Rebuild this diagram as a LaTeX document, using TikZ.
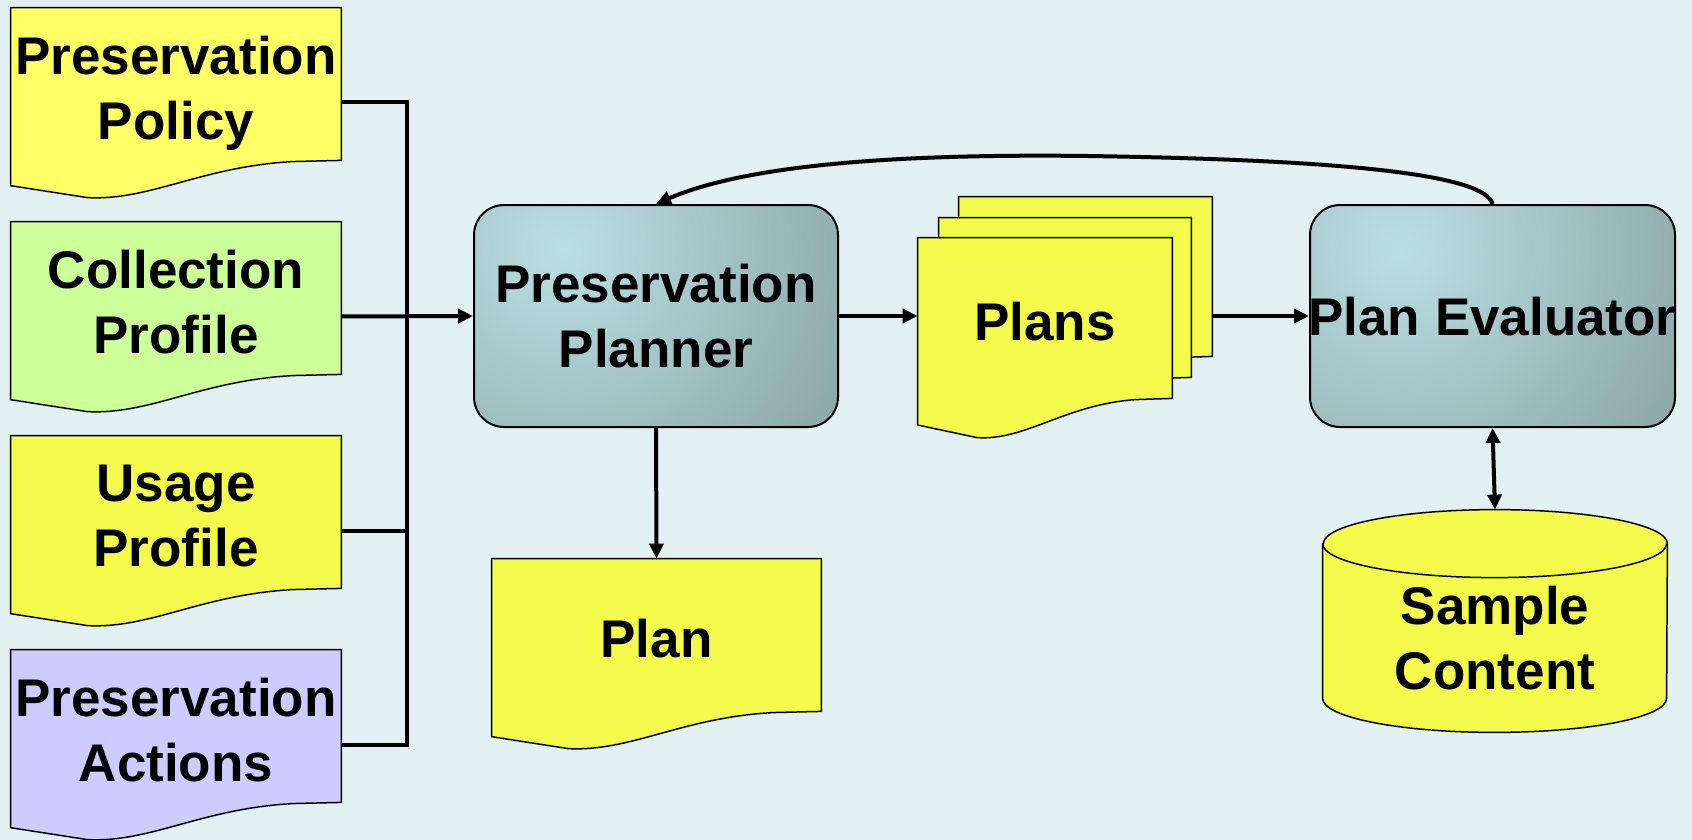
\documentclass[tikz,border=0pt]{standalone}
\usepackage{fontspec}
\setmainfont{Liberation Sans}
\usetikzlibrary{calc,arrows.meta}
\pgfdeclarelayer{background}
\pgfsetlayers{background,main}
\definecolor{bgc}{HTML}{E2F0F2}
\definecolor{yelA}{HTML}{FFFF66}
\definecolor{yelB}{HTML}{F4FA4C}
\definecolor{grn}{HTML}{CCFF99}
\definecolor{lav}{HTML}{CCCCFF}
\definecolor{gl}{HTML}{BADFE3}
\definecolor{gd}{HTML}{8FAAAB}
\tikzset{
  lbl/.style={font=\bfseries\fontsize{26.5}{32.3}\selectfont, align=center, inner sep=0pt, text=black, text depth=0pt},
  doctext/.style={lbl},
  docline/.style={draw=black, line width=0.75pt},
  gbox/.style={lbl, rounded corners=15pt, draw=black, line width=1pt, fill=gd,
    path picture={\shade[inner color=gl, outer color=gd]
      ([xshift=45pt,yshift=-22pt]path picture bounding box.north west) circle (150pt);}},
  conn/.style={line width=2pt, line join=miter},
  arr/.style={conn, -{Triangle[length=7.5pt,width=7pt]}},
  darr/.style={conn, {Triangle[length=7.5pt,width=7pt]}-{Triangle[length=7.5pt,width=7pt]}}
}
% document shape drawn 1.75pt above its text node
\newcommand\docshape[2]{%
  \path[docline,fill=#2] let \p1=([yshift=1.75pt]#1.north west), \p2=([yshift=1.75pt]#1.south east),
    \n1={\x2-\x1}, \n2={\y1-\y2} in
    (\p1) -- (\x2,\y1) -- (\p2) -- ({\x1+0.855*\n1},{\y1-1.0075*\n2})
    .. controls ({\x1+0.576*\n1},{\y1-1.0398*\n2}) and ({\x1+0.424*\n1},{\y1-1.2637*\n2})
    .. ({\x1+0.233*\n1},{\y1-1.2438*\n2}) -- (\x1,{\y1-1.1654*\n2}) -- cycle;}
\begin{document}
\begin{tikzpicture}[x=0.5pt,y=-0.5pt]
\useasboundingbox (0,0) rectangle (1692,840);
% documents (text nodes, shapes drawn on background)
\node[doctext, minimum width=165pt, minimum height=76pt] (pol) at (176,87.5) {Preservation\\Policy};
\node[doctext, minimum width=165pt, minimum height=76pt] (col) at (176,301.5) {Collection\\Profile};
\node[doctext, minimum width=165pt, minimum height=76pt] (use) at (176,515.5) {Usage\\Profile};
\node[doctext, minimum width=165pt, minimum height=76pt] (act) at (176,729.5) {Preservation\\Actions};
\node[doctext, minimum width=164.5pt, minimum height=76pt] (plan) at (656.5,638.5) {Plan};
\node[doctext, minimum width=126.5pt, minimum height=79.5pt] (plansA) at (1085.5,280) {};
\node[doctext, minimum width=126pt, minimum height=79.5pt] (plansB) at (1065,301) {};
\node[doctext, minimum width=127pt, minimum height=80pt] (plansC) at (1045,321.5) {Plans};
\node[lbl, minimum width=172pt, minimum height=94pt] (samp) at (1495,638) {Sample\\Content};
% process boxes
\node[gbox, minimum width=182pt, minimum height=111pt] (planner) at (656,316) {Preservation\\Planner};
\node[gbox, minimum width=182.5pt, minimum height=111pt] (eval) at (1492.5,316) {\makebox[0pt]{Plan Evaluator}};
\begin{pgfonlayer}{background}
  \fill[bgc] (0,0) rectangle (1692,840);
  \docshape{pol}{yelA}
  \docshape{col}{grn}
  \docshape{use}{yelB}
  \docshape{act}{lav}
  \docshape{plan}{yelB}
  \docshape{plansA}{yelB}
  \docshape{plansB}{yelB}
  \docshape{plansC}{yelB}
  \path[docline, fill=yelB] (samp.north west) -- ([yshift=17pt]samp.south west)
    arc[start angle=180, end angle=360, x radius=86pt, y radius=17pt]
    -- (samp.north east)
    arc[start angle=0, end angle=180, x radius=86pt, y radius=17pt] -- cycle;
  \draw[docline] (samp.north west) arc[start angle=180, end angle=360, x radius=86pt, y radius=17pt];
\end{pgfonlayer}
% connectors
\coordinate (bus) at (407,316);
\draw[conn] ([yshift=-7.5pt]pol.east) -| (bus);
\draw[conn] ([yshift=-7.5pt]use.east) -| (bus);
\draw[conn] ([yshift=-7.5pt]act.east) -| (bus);
\draw[arr] ([yshift=-7.5pt]col.east) -- (planner.west);
\draw[arr] (planner.east) -- (planner.east -| plansC.west);
\draw[arr] (plansA.east |- eval.west) -- (eval.west);
\draw[arr] (planner.south) -- ([yshift=1.75pt]plan.north);
\draw[darr] (eval.south) -- ([yshift=17pt]samp.north);
\coordinate (peak) at (1088,156);
\draw[arr] (eval.north) .. controls (1485,175) and (1350,160) .. (peak)
  .. controls (850,153) and (730,172) .. (planner.north);
\end{tikzpicture}
\end{document}
